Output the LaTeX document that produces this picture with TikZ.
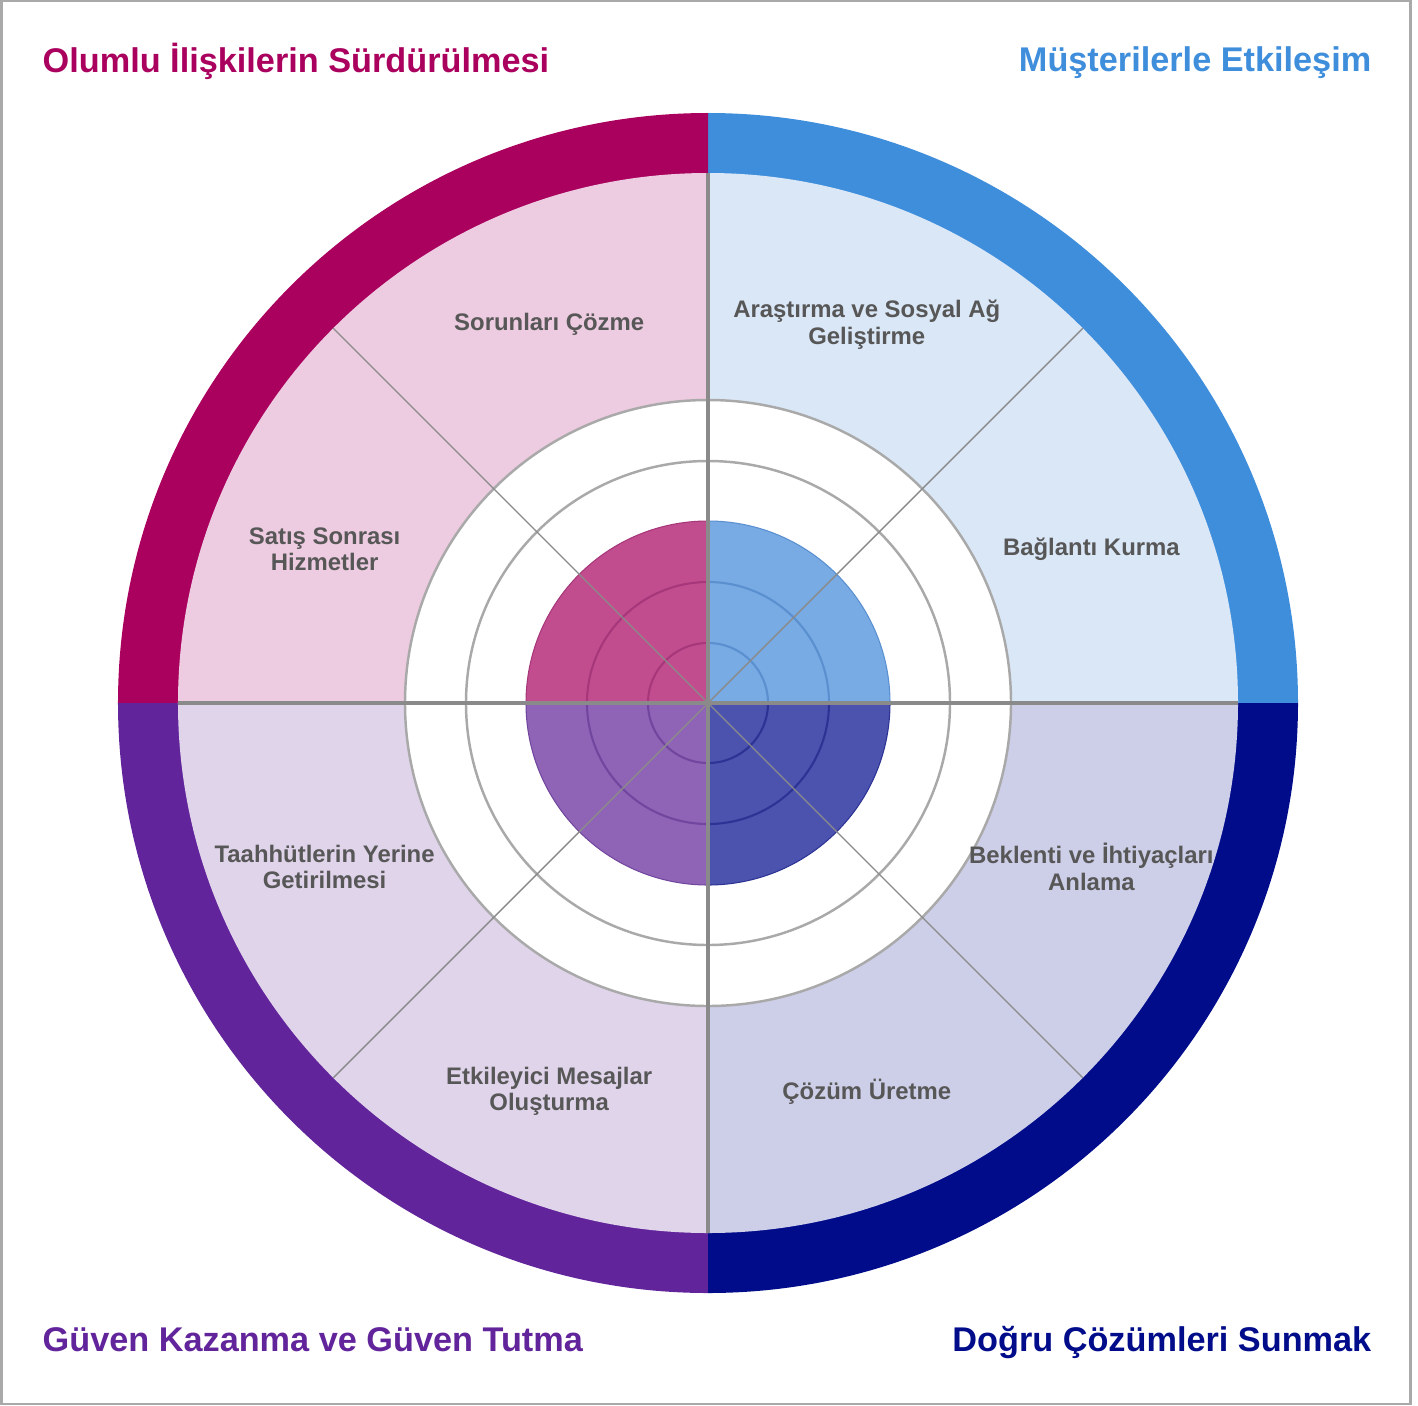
\documentclass[tikz,border=0pt]{standalone}
\usepackage{fontspec}
\setmainfont{Liberation Sans}
\definecolor{magD}{HTML}{AA005E}
\definecolor{magL}{HTML}{EDCBE0}
\definecolor{magM}{HTML}{C24D8E}
\definecolor{magA}{HTML}{A6377A}
\definecolor{bluD}{HTML}{3F8EDC}
\definecolor{bluL}{HTML}{DAE7F7}
\definecolor{bluM}{HTML}{78ABE4}
\definecolor{bluA}{HTML}{5A90D0}
\definecolor{navD}{HTML}{000C8A}
\definecolor{navL}{HTML}{CDCEE8}
\definecolor{navM}{HTML}{4C53AE}
\definecolor{navA}{HTML}{2C3394}
\definecolor{purD}{HTML}{62249B}
\definecolor{purL}{HTML}{E0D4EB}
\definecolor{purM}{HTML}{8F64B7}
\definecolor{purA}{HTML}{71469E}
\definecolor{ringgray}{HTML}{A9A9A9}
\definecolor{axisgray}{HTML}{8A8A8A}
\definecolor{lblgray}{HTML}{575757}

\begin{document}
\begin{tikzpicture}[
    lbl/.style={font=\bfseries\fontsize{6.8}{7.6}\selectfont, text=lblgray, align=center, inner sep=0pt, yshift=-0.05cm},
    ttl/.style={font=\bfseries\fontsize{9.75}{11}\selectfont, inner sep=0pt}]
    \useasboundingbox (-7.08,-7.02) rectangle (7.10,7.03);
    % 边框
    \draw[ringgray, line width=0.7pt] (-7.065,-7.01) rectangle (7.025,7.02);

    % 外圈
    \fill[bluD] (0,0) -- (0:5.9) arc[start angle=0, end angle=90, radius=5.9] -- cycle;
    \fill[magD] (0,0) -- (90:5.9) arc[start angle=90, end angle=180, radius=5.9] -- cycle;
    \fill[purD] (0,0) -- (180:5.9) arc[start angle=180, end angle=270, radius=5.9] -- cycle;
    \fill[navD] (0,0) -- (270:5.9) arc[start angle=270, end angle=360, radius=5.9] -- cycle;

    % 浅色扇区
    \fill[bluL] (0,0) -- (0:5.3) arc[start angle=0, end angle=90, radius=5.3] -- cycle;
    \fill[magL] (0,0) -- (90:5.3) arc[start angle=90, end angle=180, radius=5.3] -- cycle;
    \fill[purL] (0,0) -- (180:5.3) arc[start angle=180, end angle=270, radius=5.3] -- cycle;
    \fill[navL] (0,0) -- (270:5.3) arc[start angle=270, end angle=360, radius=5.3] -- cycle;

    % 白色圆环
    \fill[white] (0,0) circle (3.03);
    \draw[ringgray, line width=0.7pt] (0,0) circle (3.03);
    \draw[ringgray, line width=0.7pt] (0,0) circle (2.42);

    % 中心
    \filldraw[fill=bluM, draw=bluA, line width=0.3pt] (0,0) -- (0:1.82) arc[start angle=0, end angle=90, radius=1.82] -- cycle;
    \filldraw[fill=magM, draw=magA, line width=0.3pt] (0,0) -- (90:1.82) arc[start angle=90, end angle=180, radius=1.82] -- cycle;
    \filldraw[fill=purM, draw=purA, line width=0.3pt] (0,0) -- (180:1.82) arc[start angle=180, end angle=270, radius=1.82] -- cycle;
    \filldraw[fill=navM, draw=navA, line width=0.3pt] (0,0) -- (270:1.82) arc[start angle=270, end angle=360, radius=1.82] -- cycle;
    \draw[bluA, line width=0.6pt] (0:1.21) arc[start angle=0, end angle=90, radius=1.21] (0:0.60) arc[start angle=0, end angle=90, radius=0.60];
    \draw[magA, line width=0.6pt] (90:1.21) arc[start angle=90, end angle=180, radius=1.21] (90:0.60) arc[start angle=90, end angle=180, radius=0.60];
    \draw[purA, line width=0.6pt] (180:1.21) arc[start angle=180, end angle=270, radius=1.21] (180:0.60) arc[start angle=180, end angle=270, radius=0.60];
    \draw[navA, line width=0.6pt] (270:1.21) arc[start angle=270, end angle=360, radius=1.21] (270:0.60) arc[start angle=270, end angle=360, radius=0.60];

    % 分隔线
    \draw[axisgray, line width=0.4pt] (45:5.3) -- (225:5.3);
    \draw[axisgray, line width=0.4pt] (135:5.3) -- (315:5.3);
    \draw[axisgray, line width=1.2pt] (-5.3,0) -- (5.3,0);
    \draw[axisgray, line width=1.2pt] (0,-5.3) -- (0,5.3);

    % 扇区文字
    \node[lbl] (arastirma) at (67.5:4.15) {Araştırma ve Sosyal Ağ\\Geliştirme};
    \node[lbl] (baglanti) at (22.5:4.15) {Bağlantı Kurma};
    \node[lbl] (beklenti) at (-22.5:4.15) {Beklenti ve İhtiyaçları\\Anlama};
    \node[lbl] (cozum) at (-67.5:4.15) {Çözüm Üretme};
    \node[lbl] (mesajlar) at (-112.5:4.15) {Etkileyici Mesajlar\\Oluşturma};
    \node[lbl] (taahhut) at (-157.5:4.15) {Taahhütlerin Yerine\\Getirilmesi};
    \node[lbl] (satis) at (157.5:4.15) {Satış Sonrası\\Hizmetler};
    \node[lbl] (sorunlar) at (112.5:4.15) {Sorunları Çözme};

    % 标题
    \node[ttl, text=magD, anchor=base west] (olumlu) at (-6.66,6.30) {Olumlu İlişkilerin Sürdürülmesi};
    \node[ttl, text=bluD, anchor=base east] (musteri) at (6.64,6.31) {Müşterilerle Etkileşim};
    \node[ttl, text=purD, anchor=base west] (guven) at (-6.66,-6.485) {Güven Kazanma ve Güven Tutma};
    \node[ttl, text=navD, anchor=base east] (dogru) at (6.64,-6.48) {Doğru Çözümleri Sunmak};
\end{tikzpicture}
\end{document}
